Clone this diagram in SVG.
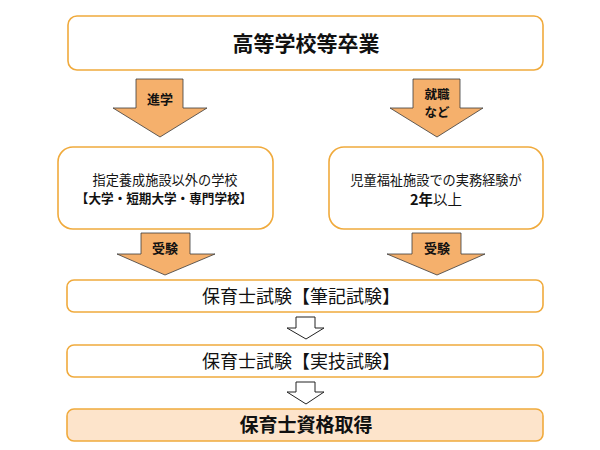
<svg xmlns="http://www.w3.org/2000/svg" width="600" height="450" viewBox="0 0 600 450">
<style>
.box{fill:#fff;stroke:#f0aa3c;stroke-width:1.6}
.fin{fill:#fde4cb;stroke:#f0aa3c;stroke-width:1.6}
.oa{fill:#f5b06c;stroke:#3a3a3a;stroke-width:0.8}
.wa{fill:#fff;stroke:#222;stroke-width:1}
text{font-family:"Noto Sans CJK JP","Noto Sans CJK SC",sans-serif;fill:#111;text-anchor:middle}
.b{font-weight:bold}
</style>
<rect width="600" height="450" fill="#fff"/>
<g id="n-top">
<rect class="box" x="68" y="16" width="475" height="54" rx="9"/>
<text class="b" x="306" y="51" font-size="21">高等学校等卒業</text>
</g>
<g id="n-left">
<rect class="box" x="58" y="147" width="215" height="82" rx="15"/>
<text x="165" y="185" font-size="13.2">指定養成施設以外の学校</text>
<text class="b" x="164" y="203" font-size="12.6">【大学・短期大学・専門学校】</text>
</g>
<g id="n-right">
<rect class="box" x="329" y="147" width="214" height="82" rx="15"/>
<text x="436" y="185" font-size="13.2">児童福祉施設での実務経験が</text>
<text x="436" y="205" font-size="14.5"><tspan class="b">2年</tspan>以上</text>
</g>
<g id="n-exam1">
<rect class="box" x="67" y="280" width="476" height="32" rx="7"/>
<text x="301" y="303" font-size="18">保育士試験【筆記試験】</text>
</g>
<g id="n-exam2">
<rect class="box" x="67" y="345" width="476" height="32" rx="7"/>
<text x="301" y="368" font-size="18">保育士試験【実技試験】</text>
</g>
<g id="n-final">
<rect class="fin" x="67" y="409" width="476" height="32" rx="7"/>
<text class="b" x="306" y="432" font-size="19">保育士資格取得</text>
</g>
<g id="connectors">
<polygon class="oa" points="136,79 183,79 183,108 207,108 160,137 113,108 136,108"/>
<text class="b" x="160" y="104" font-size="13">進学</text>
<polygon class="oa" points="413,79 460,79 460,108 483,108 437,137 390,108 413,108"/>
<text class="b" x="437" y="99" font-size="12.5">就職</text>
<text class="b" x="437" y="117" font-size="12.5">など</text>
<polygon class="oa" points="141,233 190,233 190,254 215,254 165,275 117,254 141,254"/>
<text class="b" x="165" y="253" font-size="13">受験</text>
<polygon class="oa" points="412,233 461,233 461,254 485,254 437,275 387,254 412,254"/>
<text class="b" x="437" y="253" font-size="13">受験</text>
<polygon class="wa" points="296,317 315,317 315,328 324,328 306,339 287,328 296,328"/>
<polygon class="wa" points="296,382 315,382 315,392 324,392 306,404 287,392 296,392"/>
</g>
</svg>
